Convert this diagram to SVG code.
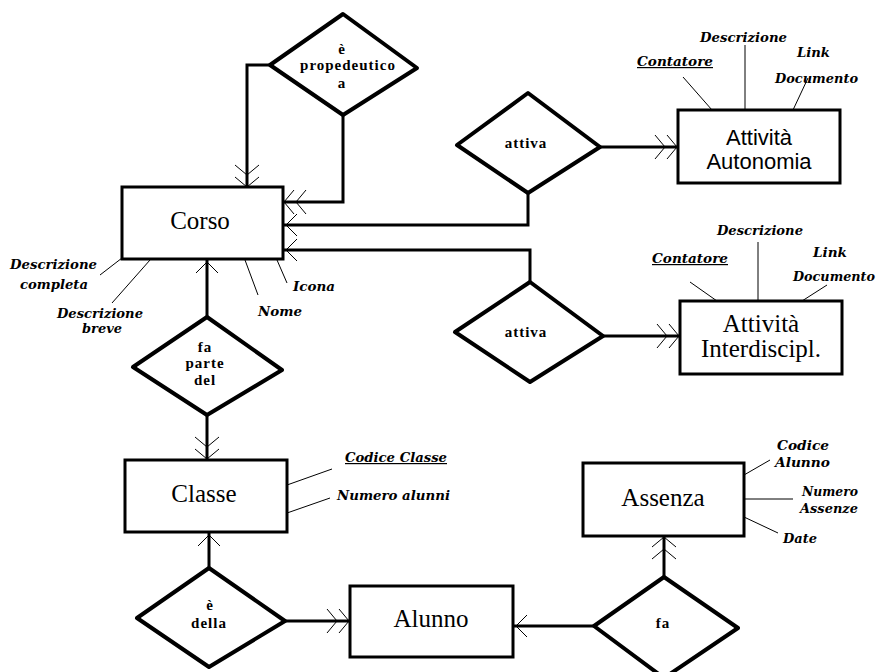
<svg xmlns="http://www.w3.org/2000/svg" width="876" height="672" viewBox="0 0 876 672">
<style>
.ent{fill:#fff;stroke:#000;stroke-width:3}
.rel{fill:#fff;stroke:#000;stroke-width:4;stroke-linejoin:round}
.et{font-family:"Liberation Serif",serif;font-size:25px;text-anchor:middle;fill:#000}
.es{font-family:"Liberation Sans",sans-serif;font-size:22px;text-anchor:middle;fill:#000}
.rt{font-family:"Liberation Serif",serif;font-size:15px;font-weight:bold;text-anchor:middle;fill:#000;letter-spacing:1px}
.at{font-family:"DejaVu Serif",serif;font-size:12px;font-weight:bold;font-style:italic;fill:#000}
.u{text-decoration:underline}
.al{stroke:#000;stroke-width:1;fill:none}
.cn{stroke:#000;stroke-width:3;fill:none}
.dbl{marker-end:url(#dbl)}
.sgl{marker-end:url(#sgl)}
</style>
<defs>
<marker id="dbl" markerUnits="userSpaceOnUse" orient="auto" refX="0" refY="0" markerWidth="30" markerHeight="30" overflow="visible">
<path d="M-10,-12 L0,0 L-10,12 M-22,-12 L-12,0 L-22,12" fill="none" stroke="#000" stroke-width="1"/>
</marker>
<marker id="sgl" markerUnits="userSpaceOnUse" orient="auto" refX="0" refY="0" markerWidth="30" markerHeight="30" overflow="visible">
<path d="M-13,-11 L-2,0 L-13,11" fill="none" stroke="#000" stroke-width="1"/>
</marker>
</defs>
<rect width="876" height="672" fill="#fff"/>
<g id="connectors">
<path class="cn dbl" d="M270,65 H247 V187"/>
<path class="cn dbl" d="M343,115 V202 H284"/>
<path class="cn sgl" d="M528,193 V225 H284"/>
<path class="cn sgl" d="M530,282 V250 H284"/>
<path class="cn dbl" d="M600,147 H677"/>
<path class="cn dbl" d="M603,336 H679"/>
<path class="cn sgl" d="M207,317 V260"/>
<path class="cn dbl" d="M207,415 V459"/>
<path class="cn sgl" d="M209,568 V533"/>
<path class="cn dbl" d="M285,621 H349"/>
<path class="cn sgl" d="M594,626 H514"/>
<path class="cn dbl" d="M664,577 V537"/>
</g>
<g id="corso">
<rect class="ent" x="122" y="187" width="161" height="72"/>
<text class="et" x="200" y="229">Corso</text>
<line class="al" x1="100" y1="275" x2="122" y2="258"/>
<line class="al" x1="112" y1="303" x2="150" y2="260"/>
<line class="al" x1="245" y1="260" x2="258" y2="295"/>
<line class="al" x1="277" y1="260" x2="287" y2="283"/>
<text class="at" x="10" y="269" textLength="87" lengthAdjust="spacingAndGlyphs">Descrizione</text>
<text class="at" x="20" y="289" textLength="68" lengthAdjust="spacingAndGlyphs">completa</text>
<text class="at" x="57" y="318" textLength="86" lengthAdjust="spacingAndGlyphs">Descrizione</text>
<text class="at" x="82" y="333" textLength="40" lengthAdjust="spacingAndGlyphs">breve</text>
<text class="at" x="258" y="316" textLength="44" lengthAdjust="spacingAndGlyphs">Nome</text>
<text class="at" x="293" y="291" textLength="42" lengthAdjust="spacingAndGlyphs">Icona</text>
</g>
<g id="propedeutico">
<polygon class="rel" points="343,14 417,68 343,115 270,65"/>
<text class="rt" x="342" y="54">è</text>
<text class="rt" x="348" y="70" letter-spacing="1.6">propedeutico</text>
<text class="rt" x="342" y="88">a</text>
</g>
<g id="attiva1">
<polygon class="rel" points="528,93 600,147 528,193 457,145"/>
<text class="rt" x="526" y="148">attiva</text>
</g>
<g id="autonomia">
<rect class="ent" x="678" y="110" width="162" height="73"/>
<text class="es" x="759" y="145">Attività</text>
<text class="es" x="759" y="169">Autonomia</text>
<line class="al" x1="683" y1="77" x2="712" y2="110"/>
<line class="al" x1="745" y1="45" x2="745" y2="110"/>
<line class="al" x1="808" y1="78" x2="793" y2="110"/>
<text class="at u" x="637" y="66" textLength="76" lengthAdjust="spacingAndGlyphs">Contatore</text>
<text class="at" x="700" y="42" textLength="87" lengthAdjust="spacingAndGlyphs">Descrizione</text>
<text class="at" x="797" y="57" textLength="33" lengthAdjust="spacingAndGlyphs">Link</text>
<text class="at" x="775" y="83" textLength="83" lengthAdjust="spacingAndGlyphs">Documento</text>
</g>
<g id="attiva2">
<polygon class="rel" points="530,282 603,336 530,382 455,332"/>
<text class="rt" x="526" y="337">attiva</text>
</g>
<g id="interdiscipl">
<rect class="ent" x="680" y="301" width="162" height="73"/>
<text class="et" x="761" y="332">Attività</text>
<text class="et" x="761" y="357">Interdiscipl.</text>
<line class="al" x1="690" y1="282" x2="717" y2="301"/>
<line class="al" x1="758" y1="242" x2="758" y2="301"/>
<line class="al" x1="827" y1="285" x2="802" y2="301"/>
<text class="at u" x="652" y="263" textLength="76" lengthAdjust="spacingAndGlyphs">Contatore</text>
<text class="at" x="717" y="235" textLength="86" lengthAdjust="spacingAndGlyphs">Descrizione</text>
<text class="at" x="813" y="257" textLength="34" lengthAdjust="spacingAndGlyphs">Link</text>
<text class="at" x="793" y="281" textLength="82" lengthAdjust="spacingAndGlyphs">Documento</text>
</g>
<g id="faparte">
<polygon class="rel" points="207,317 282,370 207,415 133,367"/>
<text class="rt" x="205" y="352">fa</text>
<text class="rt" x="205" y="368">parte</text>
<text class="rt" x="205" y="385">del</text>
</g>
<g id="classe">
<rect class="ent" x="125" y="460" width="162" height="72"/>
<text class="et" x="204" y="502">Classe</text>
<line class="al" x1="287" y1="485" x2="332" y2="469"/>
<line class="al" x1="287" y1="513" x2="330" y2="498"/>
<text class="at u" x="345" y="462" textLength="102" lengthAdjust="spacingAndGlyphs">Codice Classe</text>
<text class="at" x="337" y="500" textLength="113" lengthAdjust="spacingAndGlyphs">Numero alunni</text>
</g>
<g id="edella">
<polygon class="rel" points="209,568 285,621 209,667 137,618"/>
<text class="rt" x="210" y="610">è</text>
<text class="rt" x="209" y="628">della</text>
</g>
<g id="alunno">
<rect class="ent" x="350" y="586" width="163" height="71"/>
<text class="et" x="431" y="627">Alunno</text>
</g>
<g id="fa">
<polygon class="rel" points="664,577 738,628 664,678 594,626"/>
<text class="rt" x="663" y="628">fa</text>
</g>
<g id="assenza">
<rect class="ent" x="583" y="463" width="161" height="73"/>
<text class="et" x="663" y="506">Assenza</text>
<line class="al" x1="744" y1="475" x2="770" y2="460"/>
<line class="al" x1="744" y1="499" x2="793" y2="499"/>
<line class="al" x1="744" y1="517" x2="778" y2="533"/>
<text class="at" x="777" y="450" textLength="52" lengthAdjust="spacingAndGlyphs">Codice</text>
<text class="at" x="775" y="467" textLength="55" lengthAdjust="spacingAndGlyphs">Alunno</text>
<text class="at" x="802" y="496" textLength="56" lengthAdjust="spacingAndGlyphs">Numero</text>
<text class="at" x="800" y="513" textLength="58" lengthAdjust="spacingAndGlyphs">Assenze</text>
<text class="at" x="783" y="543" textLength="34" lengthAdjust="spacingAndGlyphs">Date</text>
</g>
</svg>
